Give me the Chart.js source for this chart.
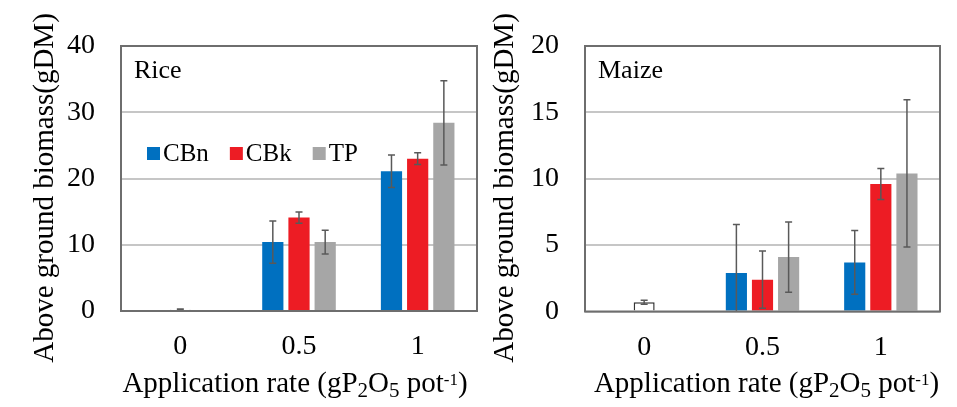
<!DOCTYPE html>
<html>
<head>
<meta charset="utf-8">
<script src="https://cdn.jsdelivr.net/npm/chart.js@4.4.1/dist/chart.umd.min.js"></script>
<style>
  html, body { margin: 0; padding: 0; background: #fff; }
  #wrap { position: relative; width: 957px; height: 407px; }
  #rice { position: absolute; left: 0; top: 0; }
  #maize { position: absolute; left: 480px; top: 0; }
</style>
</head>
<body>
<div id="wrap">
  <canvas id="rice" width="480" height="407"></canvas>
  <canvas id="maize" width="477" height="407"></canvas>
</div>
<script>
// categories (application rate, gP2O5 pot-1)
const categories = ['0', '0.5', '1'];
const seriesNames = ['CBn', 'CBk', 'TP'];

// Rice, above ground biomass (gDM) and error bars
const riceControl = [0.2, null, null];
const riceControlErr = [0.1, null, null];
const riceCBn = [null, 10.4, 21.1];
const riceCBnErr = [null, 3.2, 2.45];
const riceCBk = [null, 14.1, 23.0];
const riceCBkErr = [null, 0.85, 0.9];
const riceTP = [null, 10.4, 28.4];
const riceTPErr = [null, 1.8, 6.35];

// Maize
const maizeControl = [0.7, null, null];
const maizeControlErr = [0.15, null, null];
const maizeCBn = [null, 2.9, 3.7];
const maizeCBnErr = [null, 3.65, 2.4];
const maizeCBk = [null, 2.4, 9.6];
const maizeCBkErr = [null, 2.15, 1.17];
const maizeTP = [null, 4.1, 10.4];
const maizeTPErr = [null, 2.65, 5.55];

const riceTicks = [0, 10, 20, 30, 40];
const maizeTicks = [0, 5, 10, 15, 20];

const yTitle = 'Above ground biomass(gDM)';
// pieces of the x title: [text, font size, baseline shift]
const xTitleParts = [
  ['Application rate (gP', 29, 0],
  ['2', 21, 5],
  ['O', 29, 0],
  ['5', 21, 5],
  [' pot', 29, 0],
  ['-1', 17, -7],
  [')', 29, 0]
];

const FONT = '"Liberation Serif", "Times New Roman", serif';
const COLORS = ['#0070C0', '#ED1C24', '#A6A6A6'];

const errorBars = {
  id: 'errorBars',
  afterDatasetsDraw(chart) {
    const { ctx, chartArea: a, scales: { y } } = chart;
    ctx.save();
    ctx.beginPath();
    ctx.rect(a.left, a.top, a.right - a.left, a.bottom - a.top);
    ctx.clip();
    ctx.strokeStyle = '#595959';
    ctx.lineWidth = 1.5;
    chart.data.datasets.forEach((ds, i) => {
      if (!ds.errors) return;
      chart.getDatasetMeta(i).data.forEach((bar, j) => {
        const v = ds.data[j], e = ds.errors[j];
        if (v == null || e == null) return;
        const x = bar.x;
        const y1 = y.getPixelForValue(v + e), y2 = y.getPixelForValue(v - e);
        ctx.beginPath();
        ctx.moveTo(x, y1); ctx.lineTo(x, y2);
        ctx.moveTo(x - 3.5, y1); ctx.lineTo(x + 3.5, y1);
        ctx.moveTo(x - 3.5, y2); ctx.lineTo(x + 3.5, y2);
        ctx.stroke();
      });
    });
    ctx.restore();
  }
};

const frame = {
  id: 'frame',
  afterDatasetsDraw(chart) {
    const { ctx, chartArea: a } = chart;
    ctx.save();
    ctx.strokeStyle = '#6e6e6e';
    ctx.lineWidth = 2;
    ctx.strokeRect(a.left, a.top, a.right - a.left, a.bottom - a.top);
    ctx.restore();
  }
};

const texts = {
  id: 'texts',
  afterDraw(chart, args, o) {
    const { ctx, chartArea: a } = chart;
    ctx.save();
    ctx.fillStyle = '#000';
    ctx.textBaseline = 'alphabetic';

    // panel name
    ctx.textAlign = 'left';
    ctx.font = `26px ${FONT}`;
    ctx.fillText(o.panel, a.left + 13, 78);

    // y title (rotated)
    ctx.save();
    ctx.translate(o.yTitleX, 188);
    ctx.rotate(-Math.PI / 2);
    ctx.textAlign = 'center';
    ctx.font = `29px ${FONT}`;
    ctx.fillText(yTitle, 0, 0);
    ctx.restore();

    // x title with sub/superscripts
    let w = 0;
    xTitleParts.forEach(([t, s]) => { ctx.font = `${s}px ${FONT}`; w += ctx.measureText(t).width; });
    let x = o.xTitleCX - w / 2;
    xTitleParts.forEach(([t, s, dy]) => {
      ctx.font = `${s}px ${FONT}`;
      ctx.fillText(t, x, 391.5 + dy);
      x += ctx.measureText(t).width;
    });

    // legend
    if (o.legend) {
      ctx.font = `25px ${FONT}`;
      let lx = o.legendX;
      chart.data.datasets.forEach(ds => {
        if (!seriesNames.includes(ds.label)) return;
        ctx.fillStyle = ds.backgroundColor;
        ctx.fillRect(lx, o.legendY, 13, 13);
        ctx.fillStyle = '#000';
        ctx.fillText(ds.label, lx + 16, o.legendY + 14);
        lx += 16 + ctx.measureText(ds.label).width + 21;
      });
    }
    ctx.restore();
  }
};

function makeChart(id, sets, ticks, o) {
  const [ctrl, ctrlErr, ...rest] = sets;
  const datasets = [{
    label: 'Control', data: ctrl, errors: ctrlErr,
    backgroundColor: '#fff', borderColor: '#333', borderWidth: 1.5,
    maxBarThickness: 21
  }];
  seriesNames.forEach((name, i) => {
    datasets.push({
      label: name, data: rest[i * 2], errors: rest[i * 2 + 1],
      backgroundColor: COLORS[i], borderWidth: 0
    });
  });

  return new Chart(document.getElementById(id), {
    type: 'bar',
    data: { labels: categories, datasets },
    options: {
      responsive: false,
      animation: false,
      layout: { padding: { top: 46, right: o.padRight, bottom: 0, left: 0 } },
      datasets: { bar: { skipNull: true, categoryPercentage: 0.662, barPercentage: 0.81 } },
      plugins: {
        legend: { display: false },
        tooltip: { enabled: false },
        texts: o
      },
      scales: {
        x: {
          grid: { display: false, drawTicks: false },
          border: { display: false },
          ticks: { color: '#000', padding: 19, font: { family: FONT, size: 28 } },
          afterFit: s => { s.height = o.xHeight; }
        },
        y: {
          min: ticks[0],
          max: ticks[ticks.length - 1],
          afterBuildTicks: s => { s.ticks = ticks.map(v => ({ value: v })); },
          grid: { color: '#c6c6c6', lineWidth: 2, drawTicks: false },
          border: { display: false },
          ticks: { color: '#000', padding: 26, font: { family: FONT, size: 28 } },
          afterFit: s => { s.width = o.yWidth; }
        }
      }
    },
    plugins: [errorBars, frame, texts]
  });
}

makeChart('rice',
  [riceControl, riceControlErr, riceCBn, riceCBnErr, riceCBk, riceCBkErr, riceTP, riceTPErr],
  riceTicks,
  { panel: 'Rice', legend: true, legendX: 147, legendY: 147, yTitleX: 52.5, xTitleCX: 295,
    padRight: 3, yWidth: 121, xHeight: 96 });

makeChart('maize',
  [maizeControl, maizeControlErr, maizeCBn, maizeCBnErr, maizeCBk, maizeCBkErr, maizeTP, maizeTPErr],
  maizeTicks,
  { panel: 'Maize', legend: false, yTitleX: 32.5, xTitleCX: 286.5,
    padRight: 17, yWidth: 105, xHeight: 95.5 });
</script>
</body>
</html>
